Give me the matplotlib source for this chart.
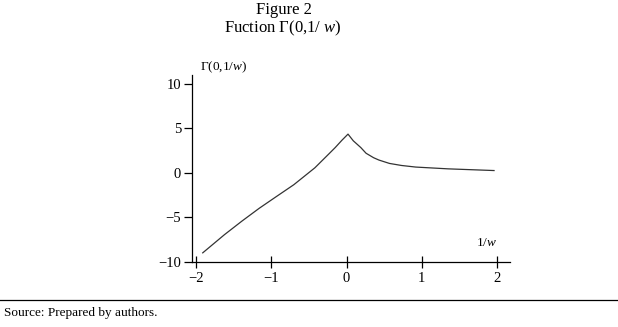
import matplotlib
matplotlib.use("Agg")
import matplotlib.pyplot as plt

plt.rcParams['font.family'] = ['Liberation Serif', 'DejaVu Serif']
plt.rcParams['mathtext.fontset'] = 'custom'
plt.rcParams['mathtext.rm'] = 'Liberation Serif'
plt.rcParams['mathtext.it'] = 'Liberation Serif:italic'

# data: x = 1/w, y = Gamma(0, 1/w)
x_vals = [-1.91, -1.62, -1.39, -1.16, -0.93, -0.70, -0.42, -0.24, -0.15, -0.06, 0.02,
          0.09, 0.19, 0.26, 0.36, 0.43, 0.57, 0.73, 0.92, 1.35, 1.96]
y_vals = [-8.98, -6.93, -5.42, -3.98, -2.65, -1.33, 0.57, 2.08, 2.84, 3.67, 4.35,
          3.60, 2.84, 2.20, 1.70, 1.44, 1.06, 0.83, 0.65, 0.45, 0.26]
x_ticks = [-2, -1, 0, 1, 2]
y_ticks = [-10, -5, 0, 5, 10]

fig = plt.figure(figsize=(6.18, 3.27), dpi=100)
ax = fig.add_axes([0.311, 0.199, 0.514, 0.572])
ax.plot(x_vals, y_vals, color='#333333', lw=0.9)
ax.set_xlim(-2.05, 2.17)
ax.set_ylim(-10, 11)
ax.set_xticks(x_ticks)
ax.set_yticks(y_ticks)
ax.spines['top'].set_visible(False)
ax.spines['right'].set_visible(False)
for s in ['left', 'bottom']:
    ax.spines[s].set_linewidth(0.9)
ax.tick_params(axis='x', direction='inout', length=8, width=0.9, labelsize=10.5, pad=3)
ax.tick_params(axis='y', direction='out', length=6, width=0.9, labelsize=10.5, pad=2)

fig.text(0.323, 0.795, 'Γ(0,1/$w$)', fontsize=9.5, ha='left', va='center')
fig.text(0.770, 0.257, '1/$w$', fontsize=9.5, ha='left', va='center')

fig.text(0.459, 0.968, 'Figure 2', fontsize=12, ha='center', va='center')
fig.text(0.457, 0.914, 'Fuction Γ(0,1/ $w$)', fontsize=12, ha='center', va='center')

fig.add_artist(plt.Line2D([0.0, 1.0], [0.083, 0.083], transform=fig.transFigure,
                          color='black', lw=0.9))
fig.text(0.006, 0.042, 'Source: Prepared by authors.', fontsize=9.5, ha='left', va='center')

fig.savefig('out.png', dpi=100)
